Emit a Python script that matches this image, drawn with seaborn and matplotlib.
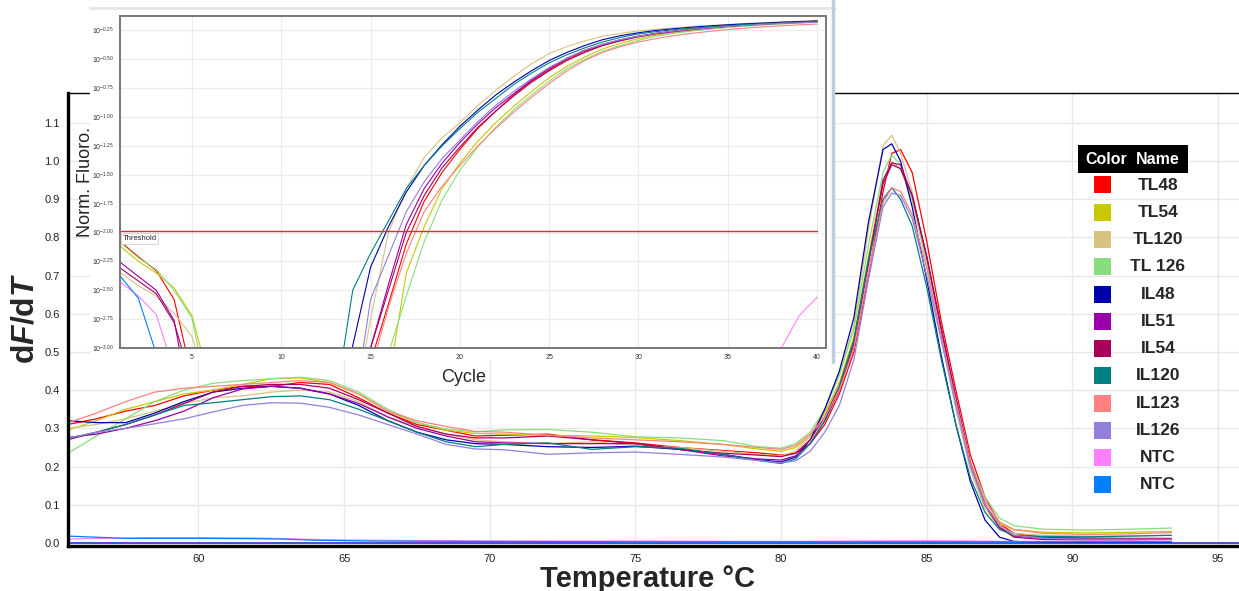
import matplotlib
matplotlib.use('Agg')
import matplotlib.pyplot as plt
import numpy as np
import pandas as pd
import seaborn as sns
from matplotlib.patches import Rectangle
from matplotlib.lines import Line2D

# samples (two NTC wells share a display name)
sample_ids = ['TL48', 'TL54', 'TL120', 'TL126', 'IL48', 'IL51', 'IL54',
              'IL120', 'IL123', 'IL126', 'NTC1', 'NTC2']
sample_names = ['TL48', 'TL54', 'TL120', 'TL 126', 'IL48', 'IL51', 'IL54',
                'IL120', 'IL123', 'IL126', 'NTC', 'NTC']
sample_colors = ['#ff0000', '#c8c800', '#d8c282', '#88dd7f', '#0000aa', '#9900aa',
                 '#a90058', '#008080', '#ff8080', '#9480dc', '#ff80ff', '#0080ff']

# melt curve (dF/dT vs temperature)
temps = [55.5, 56.5, 57.5, 58.5, 59.5, 60.5, 61.5, 62.5, 63.5, 64.5,
         65.5, 66.5, 67.5, 68.5, 69.5, 70.5, 72, 73.5, 75, 76.5,
         78, 79.2, 80, 80.5, 81, 81.5, 82, 82.5, 83, 83.5,
         83.8, 84.1, 84.5, 85, 85.5, 86, 86.5, 87, 87.5, 88,
         89, 90.5, 92, 93.4]

dfdt_TL48 = [0.31, 0.325, 0.345, 0.36, 0.385, 0.40, 0.41, 0.41, 0.42, 0.415,
             0.38, 0.34, 0.31, 0.295, 0.28, 0.282, 0.285, 0.27, 0.262, 0.25,
             0.242, 0.236, 0.23, 0.235, 0.26, 0.31, 0.39, 0.50, 0.70, 0.92,
             1.02, 1.03, 0.97, 0.79, 0.58, 0.40, 0.23, 0.12, 0.05, 0.025,
             0.015, 0.013, 0.012, 0.012]
dfdt_TL54 = [0.295, 0.32, 0.35, 0.37, 0.39, 0.40, 0.415, 0.43, 0.432, 0.42,
             0.39, 0.345, 0.315, 0.295, 0.287, 0.285, 0.282, 0.28, 0.276, 0.268,
             0.258, 0.246, 0.24, 0.25, 0.28, 0.34, 0.42, 0.54, 0.75, 0.95,
             0.997, 0.98, 0.90, 0.74, 0.55, 0.37, 0.20, 0.10, 0.05, 0.035,
             0.028, 0.026, 0.028, 0.03]
dfdt_TL120 = [0.30, 0.31, 0.325, 0.345, 0.365, 0.38, 0.385, 0.395, 0.40, 0.395,
              0.37, 0.33, 0.305, 0.285, 0.27, 0.265, 0.26, 0.265, 0.255, 0.25,
              0.24, 0.232, 0.228, 0.24, 0.28, 0.35, 0.44, 0.57, 0.82, 1.04,
              1.068, 1.02, 0.92, 0.74, 0.54, 0.35, 0.19, 0.09, 0.04, 0.025,
              0.02, 0.018, 0.018, 0.02]
dfdt_TL126 = [0.234, 0.28, 0.325, 0.37, 0.40, 0.418, 0.425, 0.43, 0.434, 0.425,
              0.395, 0.35, 0.315, 0.298, 0.291, 0.296, 0.297, 0.29, 0.278, 0.275,
              0.268, 0.252, 0.248, 0.26, 0.29, 0.35, 0.44, 0.56, 0.78, 0.97,
              1.016, 0.99, 0.90, 0.73, 0.54, 0.37, 0.21, 0.12, 0.065, 0.045,
              0.036, 0.034, 0.036, 0.039]
dfdt_IL48 = [0.32, 0.315, 0.315, 0.34, 0.37, 0.395, 0.405, 0.41, 0.405, 0.39,
             0.36, 0.32, 0.29, 0.27, 0.26, 0.258, 0.252, 0.25, 0.253, 0.245,
             0.232, 0.218, 0.212, 0.225, 0.27, 0.35, 0.45, 0.59, 0.84, 1.03,
             1.045, 1.0, 0.88, 0.69, 0.49, 0.31, 0.16, 0.06, 0.015, 0.004,
             0.002, 0.002, 0.002, 0.002]
dfdt_IL51 = [0.276, 0.285, 0.30, 0.32, 0.345, 0.38, 0.403, 0.41, 0.405, 0.39,
             0.365, 0.33, 0.30, 0.28, 0.265, 0.262, 0.26, 0.26, 0.26, 0.245,
             0.228, 0.22, 0.217, 0.228, 0.26, 0.32, 0.40, 0.52, 0.73, 0.95,
             0.995, 0.99, 0.91, 0.75, 0.56, 0.38, 0.21, 0.10, 0.04, 0.015,
             0.009, 0.008, 0.008, 0.009]
dfdt_IL54 = [0.27, 0.29, 0.31, 0.335, 0.365, 0.395, 0.41, 0.415, 0.415, 0.405,
             0.375, 0.34, 0.305, 0.285, 0.275, 0.275, 0.28, 0.27, 0.26, 0.245,
             0.235, 0.23, 0.226, 0.235, 0.27, 0.33, 0.41, 0.53, 0.74, 0.94,
             0.99, 0.98, 0.91, 0.75, 0.56, 0.38, 0.21, 0.10, 0.04, 0.018,
             0.012, 0.011, 0.011, 0.011]
dfdt_IL120 = [0.273, 0.29, 0.31, 0.335, 0.36, 0.367, 0.375, 0.383, 0.385, 0.375,
              0.35, 0.32, 0.29, 0.265, 0.252, 0.258, 0.262, 0.245, 0.252, 0.248,
              0.232, 0.216, 0.208, 0.22, 0.26, 0.32, 0.41, 0.53, 0.74, 0.90,
              0.93, 0.90, 0.83, 0.67, 0.48, 0.31, 0.17, 0.08, 0.035, 0.02,
              0.017, 0.016, 0.018, 0.02]
dfdt_IL123 = [0.314, 0.34, 0.37, 0.395, 0.405, 0.41, 0.415, 0.42, 0.425, 0.42,
              0.39, 0.345, 0.32, 0.305, 0.292, 0.29, 0.282, 0.275, 0.27, 0.265,
              0.258, 0.25, 0.245, 0.255, 0.285, 0.33, 0.40, 0.51, 0.71, 0.89,
              0.93, 0.92, 0.86, 0.72, 0.54, 0.37, 0.21, 0.11, 0.055, 0.035,
              0.025, 0.022, 0.024, 0.027]
dfdt_IL126 = [0.274, 0.29, 0.30, 0.312, 0.325, 0.343, 0.36, 0.367, 0.366, 0.355,
              0.335, 0.31, 0.285, 0.258, 0.246, 0.244, 0.232, 0.236, 0.238, 0.232,
              0.225, 0.216, 0.21, 0.215, 0.24, 0.29, 0.36, 0.48, 0.69, 0.88,
              0.916, 0.91, 0.85, 0.70, 0.53, 0.36, 0.20, 0.10, 0.045, 0.02,
              0.012, 0.01, 0.01, 0.01]

ntc_temps = [55.5, 56.5, 57.5, 58.5, 60, 62, 63, 64, 66, 70, 75, 80, 85, 88, 93.4]
dfdt_NTC1 = [0.010, 0.012, 0.013, 0.014, 0.014, 0.013, 0.011, 0.009, 0.007, 0.005,
             0.005, 0.004, 0.006, 0.004, 0.004]
dfdt_NTC2 = [0.018, 0.015, 0.012, 0.012, 0.012, 0.011, 0.010, 0.007, 0.005, 0.004,
             0.003, 0.003, 0.003, 0.003, 0.003]

# amplification (log10 of normalised fluorescence per cycle, -3.6 = below axis)
cycles = list(range(1, 41))
amp_TL48 = [-2.08, -2.21, -2.33, -2.58, -3.25, -3.6, -3.6, -3.6, -3.6, -3.6,
            -3.6, -3.6, -3.6, -3.6, -3.12, -2.62, -2.10, -1.73, -1.48, -1.28,
            -1.10, -0.95, -0.81, -0.69, -0.59, -0.50, -0.43, -0.38, -0.335, -0.30,
            -0.275, -0.255, -0.238, -0.224, -0.212, -0.201, -0.192, -0.184, -0.177, -0.170]
amp_TL54 = [-2.12, -2.25, -2.35, -2.48, -2.72, -3.3, -3.6, -3.6, -3.6, -3.6,
            -3.6, -3.6, -3.6, -3.6, -3.6, -3.3, -2.35, -1.95, -1.62, -1.40,
            -1.21, -1.05, -0.91, -0.78, -0.66, -0.56, -0.48, -0.41, -0.36, -0.32,
            -0.29, -0.268, -0.25, -0.235, -0.222, -0.211, -0.201, -0.192, -0.185, -0.178]
amp_TL120 = [-2.35, -2.46, -2.55, -2.70, -2.90, -3.4, -3.6, -3.6, -3.6, -3.6,
             -3.6, -3.6, -3.6, -3.6, -2.75, -2.0, -1.62, -1.35, -1.18, -1.05,
             -0.90, -0.77, -0.65, -0.54, -0.45, -0.39, -0.34, -0.30, -0.275, -0.255,
             -0.24, -0.228, -0.217, -0.207, -0.198, -0.19, -0.183, -0.177, -0.171, -0.166]
amp_TL126 = [-2.09, -2.22, -2.32, -2.50, -2.74, -3.5, -3.6, -3.6, -3.6, -3.6,
             -3.6, -3.6, -3.6, -3.6, -3.6, -3.05, -2.55, -2.08, -1.72, -1.46,
             -1.26, -1.09, -0.94, -0.81, -0.69, -0.58, -0.50, -0.43, -0.38, -0.335,
             -0.30, -0.275, -0.255, -0.238, -0.224, -0.212, -0.202, -0.193, -0.186, -0.18]
amp_IL48 = [-3.6, -3.6, -3.6, -3.6, -3.6, -3.6, -3.6, -3.6, -3.6, -3.6,
            -3.6, -3.6, -3.6, -2.98, -2.30, -1.95, -1.65, -1.42, -1.24, -1.08,
            -0.94, -0.81, -0.70, -0.60, -0.51, -0.44, -0.38, -0.33, -0.295, -0.27,
            -0.25, -0.235, -0.222, -0.211, -0.201, -0.193, -0.186, -0.179, -0.173, -0.168]
amp_IL51 = [-2.26, -2.38, -2.50, -2.76, -3.6, -3.6, -3.6, -3.6, -3.6, -3.6,
            -3.6, -3.6, -3.6, -3.6, -3.0, -2.45, -1.93, -1.62, -1.40, -1.22,
            -1.06, -0.92, -0.80, -0.68, -0.58, -0.49, -0.42, -0.37, -0.33, -0.30,
            -0.275, -0.255, -0.24, -0.226, -0.214, -0.204, -0.195, -0.187, -0.18, -0.174]
amp_IL54 = [-2.31, -2.42, -2.53, -2.78, -3.3, -3.6, -3.6, -3.6, -3.6, -3.6,
            -3.6, -3.6, -3.6, -3.6, -3.0, -2.5, -2.0, -1.68, -1.44, -1.26,
            -1.09, -0.95, -0.82, -0.70, -0.60, -0.51, -0.44, -0.38, -0.34, -0.305,
            -0.28, -0.26, -0.243, -0.229, -0.216, -0.205, -0.195, -0.186, -0.178, -0.17]
amp_IL120 = [-3.6, -3.6, -3.6, -3.6, -3.6, -3.6, -3.6, -3.6, -3.6, -3.6,
             -3.6, -3.6, -3.5, -2.5, -2.18, -1.9, -1.62, -1.42, -1.25, -1.1,
             -0.96, -0.84, -0.72, -0.62, -0.53, -0.46, -0.40, -0.35, -0.31, -0.28,
             -0.26, -0.243, -0.23, -0.218, -0.208, -0.2, -0.192, -0.186, -0.18, -0.175]
amp_IL123 = [-3.6, -3.6, -3.6, -3.6, -3.6, -3.6, -3.6, -3.6, -3.6, -3.6,
             -3.6, -3.6, -3.6, -3.6, -3.2, -2.65, -2.18, -1.82, -1.6, -1.42,
             -1.25, -1.1, -0.96, -0.83, -0.71, -0.60, -0.51, -0.44, -0.39, -0.35,
             -0.32, -0.295, -0.275, -0.258, -0.243, -0.23, -0.219, -0.21, -0.202, -0.195]
amp_IL126 = [-3.6, -3.6, -3.6, -3.6, -3.6, -3.6, -3.6, -3.6, -3.6, -3.6,
             -3.6, -3.6, -3.6, -3.6, -2.58, -2.2, -1.82, -1.56, -1.36, -1.2,
             -1.04, -0.9, -0.78, -0.67, -0.57, -0.49, -0.42, -0.37, -0.33, -0.30,
             -0.275, -0.255, -0.24, -0.227, -0.216, -0.206, -0.197, -0.19, -0.184, -0.178]
amp_NTC1 = [-2.43, -2.55, -2.71, -3.2, -3.6, -3.6, -3.6, -3.6, -3.6, -3.6,
            -3.6, -3.6, -3.6, -3.6, -3.6, -3.6, -3.6, -3.6, -3.6, -3.6,
            -3.6, -3.6, -3.6, -3.6, -3.6, -3.6, -3.6, -3.6, -3.6, -3.6,
            -3.6, -3.6, -3.6, -3.6, -3.6, -3.6, -3.6, -3.0, -2.72, -2.56]
amp_NTC2 = [-2.38, -2.57, -3.05, -3.6, -3.6, -3.6, -3.6, -3.6, -3.6, -3.6,
            -3.6, -3.6, -3.6, -3.6, -3.6, -3.6, -3.6, -3.6, -3.6, -3.6,
            -3.6, -3.6, -3.6, -3.6, -3.6, -3.6, -3.6, -3.6, -3.6, -3.6,
            -3.6, -3.6, -3.6, -3.6, -3.6, -3.6, -3.6, -3.6, -3.6, -3.6]
threshold = -1.99

melt_curves = {'TL48': dfdt_TL48, 'TL54': dfdt_TL54, 'TL120': dfdt_TL120, 'TL126': dfdt_TL126,
               'IL48': dfdt_IL48, 'IL51': dfdt_IL51, 'IL54': dfdt_IL54, 'IL120': dfdt_IL120,
               'IL123': dfdt_IL123, 'IL126': dfdt_IL126}
amp_curves = {'TL48': amp_TL48, 'TL54': amp_TL54, 'TL120': amp_TL120, 'TL126': amp_TL126,
              'IL48': amp_IL48, 'IL51': amp_IL51, 'IL54': amp_IL54, 'IL120': amp_IL120,
              'IL123': amp_IL123, 'IL126': amp_IL126, 'NTC1': amp_NTC1, 'NTC2': amp_NTC2}

frames = [pd.DataFrame({'temp': temps, 'dfdt': v, 'sample': k}) for k, v in melt_curves.items()]
frames.append(pd.DataFrame({'temp': ntc_temps, 'dfdt': dfdt_NTC1, 'sample': 'NTC1'}))
frames.append(pd.DataFrame({'temp': ntc_temps, 'dfdt': dfdt_NTC2, 'sample': 'NTC2'}))
melt_df = pd.concat(frames, ignore_index=True)

amp_df = pd.concat([pd.DataFrame({'cycle': cycles, 'logf': v, 'sample': k})
                    for k, v in amp_curves.items()], ignore_index=True)

palette = dict(zip(sample_ids, sample_colors))

sns.set_style('white')
plt.rcParams['font.family'] = ['Liberation Sans', 'DejaVu Sans']
plt.rcParams['mathtext.fontset'] = 'custom'
plt.rcParams['mathtext.it'] = 'Liberation Sans:italic:bold'
plt.rcParams['mathtext.rm'] = 'Liberation Sans'

W, H = 1239, 591


def fx(x):
    return x / W


def fy(y):
    return 1 - y / H


fig = plt.figure(figsize=(W / 100, H / 100), dpi=100)

# main melt-curve axes
ax = fig.add_axes([fx(68), fy(546), (1239 - 68) / W, (546 - 93) / H])
sns.lineplot(data=melt_df, x='temp', y='dfdt', hue='sample', palette=palette,
             estimator=None, sort=False, legend=False, linewidth=0.9, ax=ax)
ax.axhline(0.0, color='#3030d0', lw=1.2, zorder=1)
ax.set_xlim(55.52, 95.72)
ax.set_ylim(-0.008, 1.178)
ax.set_xticks(range(60, 96, 5))
ax.set_yticks(np.round(np.arange(0, 1.15, 0.1), 1))
ax.set_yticklabels(['%.1f' % t for t in np.round(np.arange(0, 1.15, 0.1), 1)])
ax.grid(True, color='#e8e8e8', lw=1)
ax.set_axisbelow(True)
ax.tick_params(axis='both', labelsize=8, colors='#222222', length=3, width=0.8,
               direction='out', pad=3)
ax.tick_params(axis='both', color='#999999')
ax.set_xlabel('')
ax.set_ylabel('')
for side in ['left', 'bottom']:
    ax.spines[side].set_color('black')
    ax.spines[side].set_linewidth(2.4)
ax.spines['top'].set_color('black')
ax.spines['top'].set_linewidth(1.0)
ax.spines['right'].set_visible(False)

fig.text(fx(26), fy(318), r'd$\it{F}$/d$\it{T}$', rotation=90, ha='center', va='center',
         fontsize=23, fontweight='bold')
fig.text(fx(648), fy(579), 'Temperature °C', ha='center', va='center',
         fontsize=21, fontweight='bold')

# white panel behind the inset
fig.add_artist(Rectangle((fx(90), fy(360)), (835 - 90) / W, (360 - 8) / H,
                         transform=fig.transFigure, fc='white', ec='none', zorder=2))
fig.add_artist(Line2D([fx(90), fx(835)], [fy(8), fy(8)], transform=fig.transFigure,
                      color='#e6e6e6', lw=2, zorder=2.5))
fig.add_artist(Line2D([fx(833), fx(833)], [fy(0), fy(362)], transform=fig.transFigure,
                      color='#b9cde3', lw=2.5, zorder=2.5))

# inset amplification axes
ins = fig.add_axes([fx(120), fy(348), (826 - 120) / W, (348 - 16) / H], zorder=3)
ins.set_facecolor('white')
sns.lineplot(data=amp_df, x='cycle', y='logf', hue='sample', palette=palette,
             estimator=None, sort=False, legend=False, linewidth=0.8, ax=ins)
ins.plot([1, 40], [threshold, threshold], color='#ff2020', lw=1.0)
ins.text(1.1, threshold - 0.03, 'Threshold', fontsize=5.5, va='top', ha='left',
         bbox=dict(fc='white', ec='#c8c8c8', lw=0.5, pad=1.2))
ins.set_xlim(0.97, 40.5)
ins.set_ylim(-3.0, -0.125)
ins.set_xticks(range(5, 41, 5))
yt = np.round(np.arange(-3.0, -0.2, 0.25), 2)
ins.set_yticks(yt)
ins.set_yticklabels([r'$10^{%.2f}$' % t for t in yt])
ins.grid(True, color='#ebebeb', lw=0.8)
ins.set_axisbelow(True)
ins.tick_params(axis='both', labelsize=5, colors='#333333', length=2, width=0.5, pad=2)
ins.set_xlabel('')
ins.set_ylabel('')
for side in ins.spines.values():
    side.set_color('#777777')
    side.set_linewidth(1.4)

fig.text(fx(464), fy(378), 'Cycle', ha='center', va='center', fontsize=13, zorder=4)
fig.text(fx(86), fy(182), 'Norm. Fluoro.', rotation=90, ha='center', va='center',
         fontsize=13, zorder=4)

# colour/name key on the right
fig.add_artist(Rectangle((fx(1078), fy(173)), (1188 - 1078) / W, (173 - 145) / H,
                         transform=fig.transFigure, fc='black', ec='none', zorder=4))
fig.text(fx(1106), fy(159), 'Color', color='white', fontweight='bold', fontsize=11.5,
         ha='center', va='center', zorder=5)
fig.text(fx(1158), fy(159), 'Name', color='white', fontweight='bold', fontsize=11.5,
         ha='center', va='center', zorder=5)
for i, (name, col) in enumerate(zip(sample_names, sample_colors)):
    yc = 185 + i * 27.27
    fig.add_artist(Rectangle((fx(1094), fy(yc + 8.5)), 17 / W, 17 / H,
                             transform=fig.transFigure, fc=col, ec='none', zorder=4))
    fig.text(fx(1158), fy(yc), name, fontweight='bold', fontsize=12.5,
             ha='center', va='center', zorder=5)

fig.savefig('out.png', dpi=100)
